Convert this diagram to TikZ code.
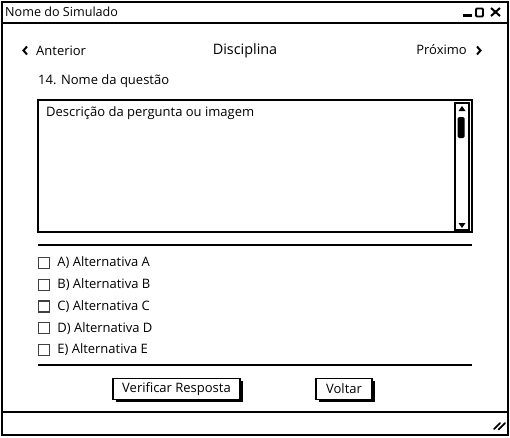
\documentclass[tikz,border=0pt]{standalone}
\usepackage{fontspec}
\setmainfont{Open Sans}
\usetikzlibrary{positioning,shadows}

\begin{document}
\begin{tikzpicture}[x=1pt,y=-1pt,
	txt/.style={anchor=west,inner sep=0pt,font=\fontsize{13}{15}\selectfont},
	frame/.style={draw,line width=2pt},
	sep/.style={line width=1.6pt},
	cbox/.style={draw=black!75,line width=1.3pt,minimum size=11pt,inner sep=0pt},
	btn/.style={draw,line width=1.5pt,fill=white,minimum height=21pt,inner sep=0pt,
		font=\fontsize{13}{15}\selectfont,
		general shadow={fill=black,shadow xshift=2.5pt,shadow yshift=-2.5pt}}
	]
		\useasboundingbox (0,0) rectangle (510,437);
		
		% window
		\draw[frame] (1.5,1.5) rectangle (508,435);
		\draw[line width=2pt] (1.5,23) -- (508,23);
		\draw[line width=2pt] (1.5,412) -- (508,412);
		\node[txt,font=\fontsize{12.6}{15}\selectfont] (title) at (5,12) {Nome do Simulado};
		\draw[line width=3pt] (463,15.5) -- (472,15.5);
		\draw[line width=1.8pt,rounded corners=1pt] (476,8.5) rectangle (483,16.5);
		\draw[line width=2pt] (491,8) -- (500,16) (491,16) -- (500,8);
		
		% navigation
		\draw[line width=2pt] (27,46.5) -- (23.5,50.5) -- (27,54.5);
		\node[txt] (anterior) at (36,51) {Anterior};
		\node[font=\fontsize{14.4}{16}\selectfont,inner sep=0pt] (disciplina) at (245,51) {Disciplina};
		\node[txt,anchor=east] (proximo) at (467,50) {Próximo};
		\draw[line width=2pt] (477,46.5) -- (480.5,50.5) -- (477,54.5);
		\node[txt] (questao) at (38,81) {14. Nome da questão};
		
		% question text
		\draw[frame] (38,100) rectangle (472,232);
		\node[txt] (descricao) at (46,113) {Descrição da pergunta ou imagem};
		\draw[line width=1.2pt] (455,103) rectangle (469,230);
		\fill[rounded corners=1.5pt] (457.5,117) rectangle (464.5,138);
		\fill (458.5,111) -- (465.5,111) -- (462,106) -- cycle;
		\fill (458.5,223) -- (465.5,223) -- (462,228) -- cycle;
		
		\draw[sep] (38,245) -- (472,245);
		
		% alternatives
		\foreach \l [count=\i from 0] in {A,B,C,D,E} {
			\node[cbox] (box\l) at (44,{263+21.7*\i}) {};
			\node[txt,right=7pt of box\l] (alt\l) {\l) Alternativa \l};
		}
		
		\draw[sep] (38,365) -- (472,365);
		
		% buttons
		\node[btn,minimum width=127pt] (verificar) at (176.5,389) {Verificar Resposta};
		\node[btn,minimum width=56pt] (voltar) at (344,389) {Voltar};
		
		% resize grip
		\draw[line width=1.8pt,line cap=round] (494,429) -- (500,423) (498.5,429.5) -- (505,423);
	\end{tikzpicture}
\end{document}
